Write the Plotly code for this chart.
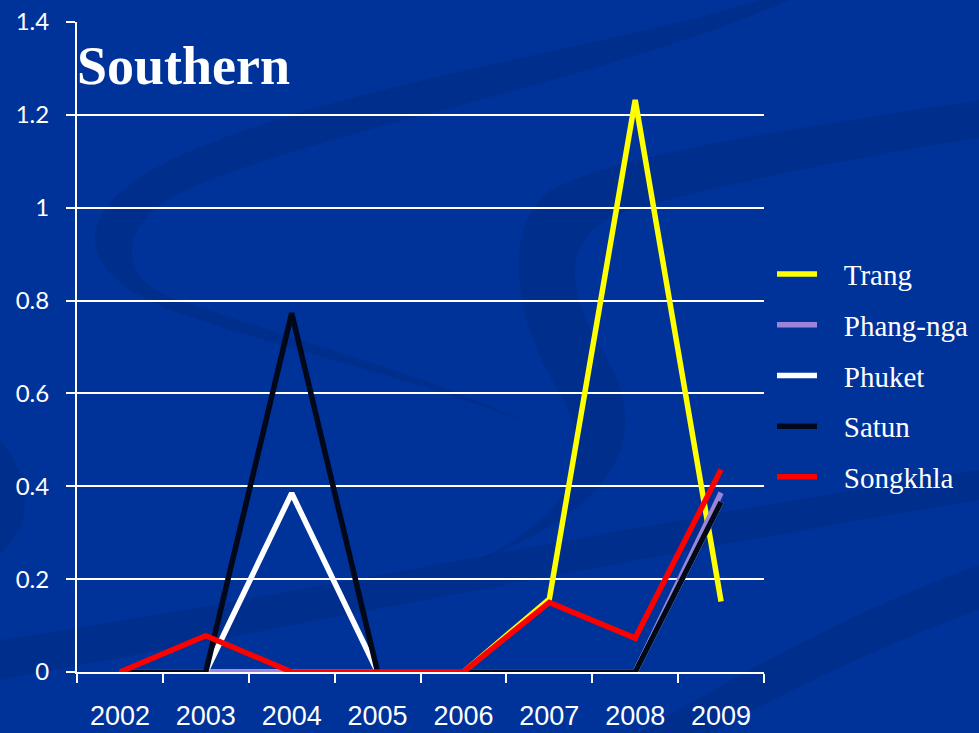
import base64
import plotly.graph_objects as go

# Reported rate by province, southern region
years = ["2002", "2003", "2004", "2005", "2006", "2007", "2008", "2009"]
trang = [0, 0, 0, 0, 0, 0.157, 1.232, 0.152]
phang_nga = [0, 0, 0, 0, 0, 0, 0, 0.386]
phuket = [0, 0, 0.385, 0, 0, 0, 0, 0.366]
satun = [0, 0, 0.773, 0, 0, 0, 0, 0.366]
songkhla = [0, 0.078, 0, 0, 0, 0.150, 0.073, 0.436]

series = [
    ("Trang", trang, "#ffff00"),
    ("Phang-nga", phang_nga, "#9c84da"),
    ("Phuket", phuket, "#ffffff"),
    ("Satun", satun, "#00081a"),
    ("Songkhla", songkhla, "#ff0000"),
]

W, H = 979, 733
L, R, T, B = 77, 215, 22, 61
BG = "#003399"

# Decorative swirl drawn behind the plot, in page pixels
swirl = f"""<svg xmlns='http://www.w3.org/2000/svg' width='{W}' height='{H}' viewBox='0 0 {W} {H}'>
<g fill='#00236e' fill-opacity='0.28'>
<path d='M 760 0 C 620 45 330 85 170 160 C 70 210 70 270 170 310 C 300 355 440 385 530 425
 C 440 378 290 340 165 295 C 115 270 120 220 190 188 C 340 125 590 85 790 0 Z'/>
<path d='M 979 100 C 820 125 630 150 550 190 C 505 225 510 310 555 385 C 595 450 585 505 480 560
 C 625 505 650 430 605 355 C 565 290 562 240 615 215 C 740 178 900 150 979 138 Z'/>
<path d='M 0 640 C 300 595 650 520 979 470 L 979 500 C 650 555 300 625 0 680 Z'/>
<path d='M 0 440 C 25 470 30 500 20 530 L 0 555 Z'/>
<path d='M 640 733 C 760 660 880 600 979 565 L 979 610 C 880 645 770 700 710 733 Z'/>
</g></svg>"""
swirl_src = "data:image/svg+xml;base64," + base64.b64encode(swirl.encode()).decode()

pw, ph = W - L - R, H - T - B

fig = go.Figure()
for name, vals, color in series:
    fig.add_trace(go.Scatter(
        x=years, y=vals, name="\u00a0\u00a0\u00a0" + name, mode="lines",
        line=dict(color=color, width=5.5),
        legendgroup=name,
    ))

fig.add_annotation(
    text="Southern", xref="paper", yref="paper", x=0.0, y=1.0,
    xanchor="left", yanchor="top", showarrow=False,
    font=dict(family="Liberation Serif", size=54, color="white", weight="bold"),
    xshift=-2, yshift=-12,
)

fig.update_layout(
    width=W, height=H,
    margin=dict(l=L, r=R, t=T, b=B, pad=0, autoexpand=False),
    paper_bgcolor=BG,
    plot_bgcolor="rgba(0,0,0,0)",
    images=[dict(
        source=swirl_src, xref="paper", yref="paper",
        x=-L / pw, y=1 + T / ph, sizex=W / pw, sizey=H / ph,
        xanchor="left", yanchor="top", sizing="stretch", layer="below",
    )],
    showlegend=True,
    legend=dict(
        x=1.0 + 8 / pw, y=0.642 + 6 / ph, xanchor="left", yanchor="top",
        xref="paper", yref="paper",
        bgcolor="rgba(0,0,0,0)",
        font=dict(family="Liberation Serif", size=29, color="white"),
        traceorder="grouped", tracegroupgap=10,
        itemwidth=40,
    ),
    xaxis=dict(
        type="category", range=[-0.5, 7.5], automargin=False,
        showgrid=False, showline=True, linecolor="white", linewidth=2,
        ticks="outside", tickson="boundaries", ticklen=9, tickwidth=2, tickcolor="white",
        tickfont=dict(family="Liberation Sans", size=27, color="white"),
        ticklabelstandoff=19,
        zeroline=False,
    ),
    yaxis=dict(
        range=[0, 1.4], automargin=False,
        tickvals=[0, 0.2, 0.4, 0.6, 0.8, 1, 1.2, 1.4],
        ticktext=["0", "0.2", "0.4", "0.6", "0.8", "1", "1.2", "1.4"],
        showgrid=True, gridcolor="white", gridwidth=2,
        showline=True, linecolor="white", linewidth=2,
        ticks="outside", ticklen=9, tickwidth=2, tickcolor="white",
        tickfont=dict(family="Lato", size=24, color="white"),
        ticklabelstandoff=12,
        zeroline=False,
    ),
)

fig.write_html("out.html")
